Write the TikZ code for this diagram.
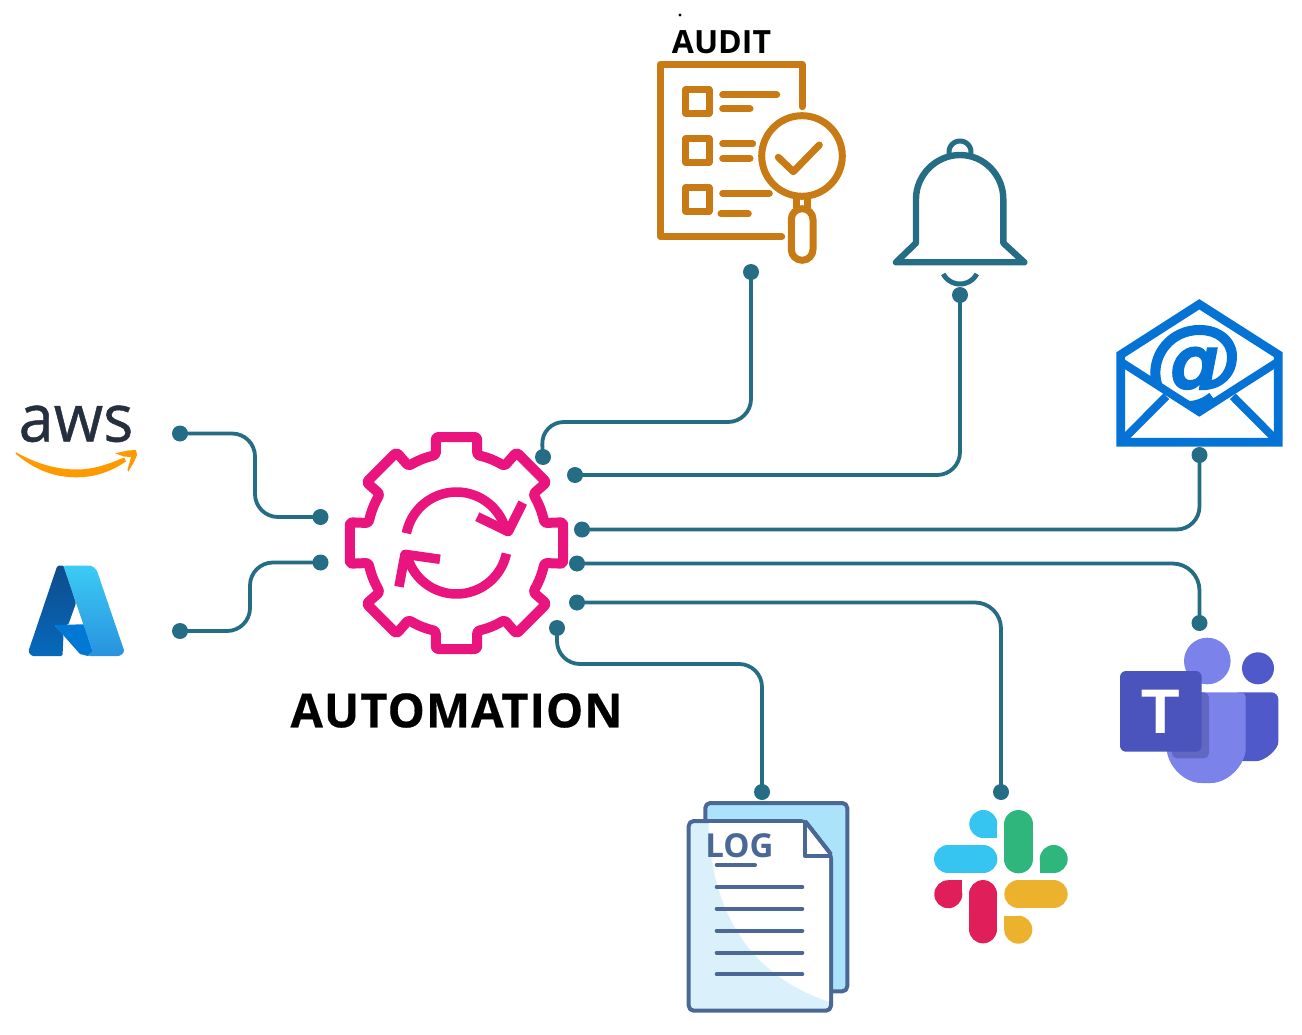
\documentclass[tikz,border=0pt]{standalone}
\usepackage{fontspec}
\newfontfamily\opensans{Open Sans}
\newfontfamily\libsans{Liberation Sans}
\newfontfamily\dejavu{DejaVu Sans}
\definecolor{wirec}{HTML}{256D85}
\definecolor{gearc}{HTML}{E9147E}
\definecolor{auditc}{HTML}{C87A14}
\definecolor{mailc}{HTML}{0573D6}
\definecolor{logc}{HTML}{4A6795}
\definecolor{logback}{HTML}{ABE3FA}
\definecolor{logfront}{HTML}{DAF1FC}
\definecolor{teamd}{HTML}{4B53BC}
\definecolor{teamm}{HTML}{7B83EB}
\definecolor{teamr}{HTML}{5059C9}
\definecolor{teams}{HTML}{6168C2}
\definecolor{slb}{HTML}{36C5F0}
\definecolor{slg}{HTML}{2EB67D}
\definecolor{slr}{HTML}{E01E5A}
\definecolor{sly}{HTML}{ECB22E}
\definecolor{awsd}{HTML}{252F3E}
\definecolor{awso}{HTML}{FF9900}
\definecolor{azd}{HTML}{0F4C8C}
\definecolor{azdb}{HTML}{0669BC}
\definecolor{azm}{HTML}{0078D4}
\definecolor{azl}{HTML}{3CCBF4}
\definecolor{azlb}{HTML}{2892DF}
\tikzset{
  dot/.style={circle,fill=wirec,draw=none,inner sep=0pt,minimum size=16pt},
  wire/.style={draw=wirec,line width=3.8pt,rounded corners=23pt},
  gearline/.style={draw=gearc,line width=10pt,line join=round},
  gearbit/.style={draw=gearc,line width=9.5pt,line join=round},
  auditline/.style={draw=auditc,line width=7pt,line cap=round,line join=round},
  bellline/.style={draw=wirec,line width=6.4pt,line join=round},
  mailline/.style={draw=mailc,line width=8.7pt,line join=miter},
  logline/.style={draw=logc,line width=4pt,line join=round},
  logrule/.style={draw=logc,line width=4pt,line cap=round},
}
\begin{document}
\begin{tikzpicture}[x=1pt,y=-1pt]
\useasboundingbox (0,0) rectangle (1302,1035);
\fill[white] (0,0) rectangle (1302,1035);

% connector dots
\node[dot] (awsA) at (180,433.5) {};
\node[dot] (awsB) at (320.5,517) {};
\node[dot] (azA) at (180,631) {};
\node[dot] (azB) at (320.5,562.5) {};
\node[dot] (audA) at (543,457) {};
\node[dot] (audB) at (751,272) {};
\node[dot] (belA) at (575,475) {};
\node[dot] (belB) at (960,295) {};
\node[dot] (malA) at (582,529.5) {};
\node[dot] (malB) at (1199.5,455) {};
\node[dot] (teaA) at (577,563.5) {};
\node[dot] (teaB) at (1199.5,623) {};
\node[dot] (slaA) at (577,602.5) {};
\node[dot] (slaB) at (1001,792) {};
\node[dot] (logA) at (557,628) {};
\node[dot] (logB) at (762,792) {};

% connectors
\draw[wire] (awsA.center) -- (255,433.5) -- (255,517) -- (awsB.center);
\draw[wire] (azA.center) -- (250,631) -- (250,562.5) -- (azB.center);
\draw[wire] (audA.center) -- (541,422) -- (751,422) -- (audB.center);
\draw[wire] (belA.center) -- (960,475) -- (belB.center);
\draw[wire] (malA.center) -- (1199.5,529.5) -- (malB.center);
\draw[wire,rounded corners=27pt] (teaA.center) -- (1199.5,563.5) -- (teaB.center);
\draw[wire,rounded corners=26pt] (slaA.center) -- (1001,602.5) -- (slaB.center);
\draw[wire] (logA.center) -- (557,664) -- (762,664) -- (logB.center);

% gear
\begin{scope}[shift={(456.5,543)}]
\draw[gearline,rounded corners=2.5pt]
 (-20.7,-88) -- (-20.7,-106) -- (20.7,-106) -- (20.7,-88) to[bend left=8]
 (48,-77) -- (60,-90.7) -- (90,-60.7) -- (76.7,-49) to[bend left=8]
 (88,-20) -- (106.7,-20.7) -- (106.7,20.7) -- (88,20) to[bend left=8]
 (76.7,49) -- (90,60.7) -- (60,90.7) -- (48,77) to[bend left=8]
 (20.7,88) -- (20.7,106) -- (-20.7,106) -- (-20.7,88) to[bend left=8]
 (-48,77) -- (-60,90.7) -- (-90,60.7) -- (-76.7,49) to[bend left=8]
 (-88,20) -- (-106.7,20.7) -- (-106.7,-20.7) -- (-88,-20) to[bend left=8]
 (-76.7,-49) -- (-90,-60.7) -- (-60,-90.7) -- (-48,-77) to[bend left=8] cycle;
\draw[gearbit] plot[domain=169:12,samples=40] ({51*cos(\x)},{-51*sin(\x)});
\draw[gearbit] plot[domain=-12:-168,samples=40] ({51*cos(\x)},{-51*sin(\x)});
\end{scope}
\draw[gearbit] (477.3,516.7) -- (508.3,531.7) -- (522.7,502.7);
\draw[gearbit] (440,559.3) -- (405,554.3) -- (399,586.7);
\node[font=\opensans\bfseries\fontsize{47}{50}\selectfont\addfontfeature{LetterSpace=2,FakeBold=0.3},text=black,inner sep=0pt] (automation) at (456.5,710.5) {AUTOMATION};

% audit
\fill[black] (680,15) circle[radius=1.6pt];
\node[font=\opensans\bfseries\fontsize{32}{34}\selectfont,text=black,inner sep=0pt] (audit) at (721.5,42) {AUDIT};
\draw[auditline] (802,106.7) -- (802,64.3) -- (660.3,64.3) -- (660.3,236.7) -- (781.7,236.7);
\foreach \yy in {89.7,138.7,187.7}
  \draw[auditline] (685.7,\yy) rectangle (709,\yy+23.6);
\draw[auditline] (722.7,95) -- (776.7,95);
\draw[auditline] (722.7,109) -- (750,109);
\draw[auditline] (722.7,144) -- (752.7,144);
\draw[auditline] (722.7,158.3) -- (750,158.3);
\draw[auditline] (722.7,193.3) -- (769.3,193.3);
\draw[auditline] (721,214) -- (748.3,214);
\draw[auditline] (802,156) circle[radius=40.3pt];
\draw[auditline] (778.3,157.3) -- (793.3,171.7) -- (819.3,145);
\draw[auditline,line cap=butt] (796,198) -- (796,208);
\draw[auditline,line cap=butt] (807.7,198) -- (807.7,208);
\draw[auditline,rounded corners=10.8pt] (791.3,208.7) rectangle (813,260.3);

% bell
\draw[bellline] (916,243) -- (916,199) .. controls (916,175) and (936,155) .. (960,155)
  .. controls (984,155) and (1003.3,175) .. (1003.3,199) -- (1003.3,243) -- (1024.3,262.3) -- (896,262.3) -- cycle;
\draw[draw=wirec,line width=5pt] plot[domain=-10:190,samples=30] ({960+11*cos(\x)},{152-11*sin(\x)});
\draw[draw=wirec,line width=5pt] plot[domain=208:332,samples=30] ({960+19*cos(\x)},{265-19*sin(\x)});

% mail
\begin{scope}
\clip (1110,290) -- (1290,290) -- (1290,362) -- (1199.3,412) -- (1110,362) -- cycle;
\node[font=\dejavu\bfseries\itshape\fontsize{97}{100}\selectfont\addfontfeature{FakeBold=1.2},text=mailc,inner sep=0pt] (at) at (1195,368) {@};
\end{scope}
\draw[mailline] (1120.7,354.7) -- (1199.3,304.3) -- (1278.3,354.7) -- (1278.3,442.3) -- (1120.7,442.3) -- cycle;
\draw[mailline,line width=8pt] (1120.7,361.7) -- (1199.3,412) -- (1278,361.7);
\draw[mailline,line width=8pt] (1166.3,396.3) -- (1121,441.7);
\draw[mailline,line width=8pt] (1232.7,396.3) -- (1278,441.7);

% teams
\fill[teamr] (1258,668.3) circle[radius=16pt];
\fill[teamr,rounded corners=7pt] (1233,692.3) -- (1278.3,692.3) -- (1278.3,730) -- (1278.3,735) .. controls (1278.3,750) and (1264,761) .. (1250,761) .. controls (1244,761) and (1238,760) .. (1233,757) -- cycle;
\fill[teamm] (1207.3,661) circle[radius=23.3pt];
\fill[teamm,rounded corners=5pt] (1166.7,692.3) -- (1245.7,692.3) -- (1245.7,720) -- (1245.7,743) .. controls (1245.7,765) and (1228,783) .. (1206,783) .. controls (1184,783) and (1166.7,765) .. (1166.7,743) -- cycle;
\fill[teams,rounded corners=5pt] (1170,692.3) -- (1209,692.3) -- (1209,758.3) -- (1172,758.3) -- cycle;
\fill[teamd,rounded corners=6pt] (1120,671) rectangle (1201.7,751.7);
\node[font=\libsans\bfseries\fontsize{63}{65}\selectfont,text=white,inner sep=0pt] (teamT) at (1161,712) {T};

% slack
\draw[draw=slb,line width=28.3pt,line cap=round] (948.2,859.2) -- (983.2,859.2);
\fill[slb] (983.3,824) circle[radius=14pt]; \fill[slb] (983.3,824) rectangle (997.3,838.2);
\draw[draw=slg,line width=28.3pt,line cap=round] (1018.5,824.2) -- (1018.5,859.2);
\fill[slg] (1053.7,859) circle[radius=14pt]; \fill[slg] (1053.7,859) rectangle (1039.5,873.2);
\draw[draw=slr,line width=28.3pt,line cap=round] (983.2,894.2) -- (983.2,929.2);
\fill[slr] (948.3,894.2) circle[radius=14pt]; \fill[slr] (948.3,894.2) rectangle (962.3,880);
\draw[draw=sly,line width=28.3pt,line cap=round] (1018.5,894.2) -- (1053.5,894.2);
\fill[sly] (1018.3,929.7) circle[radius=14pt]; \fill[sly] (1018.3,929.7) rectangle (1004.3,915.7);

% log
\draw[logline,fill=logback,rounded corners=5pt] (705.3,803) rectangle (847.3,991.3);
\draw[logline,fill=logfront,rounded corners=5pt] (688.7,821) -- (805,821) -- (831,854.3) -- (831,1010.7) -- (688.7,1010.7) -- cycle;
\fill[white] (708.5,823) .. controls (710,880) and (728,968) .. (829,1001.7) -- (829,855) -- (804,823) -- cycle;
\draw[logline,line join=round] (805,821) -- (805,855.7) -- (831,855.7);
\draw[logline,line join=round] (805,821) -- (831,854.3);
\node[font=\opensans\bfseries\fontsize{33}{35}\selectfont,text=logc,inner sep=0pt] (logtext) at (739.5,845.5) {LOG};
\draw[logrule] (716.7,865) -- (755,865);
\foreach \yy in {887,908.7,930.7,952.7,974.3}
  \draw[logrule] (716.7,\yy) -- (802.3,\yy);

% aws
\node[font=\opensans\fontsize{66}{68}\selectfont\addfontfeature{FakeBold=0.7},text=awsd,inner sep=0pt,anchor=base,xscale=0.96] (aws) at (76,441.5) {aws};
\fill[awso] (16,452.3) .. controls (35,463) and (55,469.5) .. (77,469.5) .. controls (92,469.5) and (107,465) .. (124,457.5)
  -- (126,461.5) .. controls (110,472) and (95,477.3) .. (76,477.3) .. controls (52,477.3) and (32,468) .. (15.5,453.5) -- cycle;
\fill[awso] (115,453.3) -- (128,450.5) -- (136,450) -- (137,455) -- (134,462) -- (128.3,471.7) -- (127.5,470) -- (131,457) -- (124,456.5) -- cycle;

% azure
\shade[top color=azd,bottom color=azdb,rounded corners=1.5pt]
 (57.3,565.7) -- (64,565.7) -- (76,603) -- (68.3,624.8) -- (54.3,625) -- (63.5,635) -- (62.5,656) -- (31.7,656) -- (28.3,651.7) -- cycle;
\fill[azm] (54.3,625) -- (84,624.3) -- (92.7,651.7) -- (88,656) -- (80,654) -- cycle;
\shade[top color=azl,bottom color=azlb,rounded corners=1.5pt]
 (63.3,565.7) -- (91.7,565.7) -- (96.7,570) -- (124.5,651.7) -- (120,656) -- (88,656) -- (92.7,651.7) -- cycle;
\end{tikzpicture}
\end{document}
